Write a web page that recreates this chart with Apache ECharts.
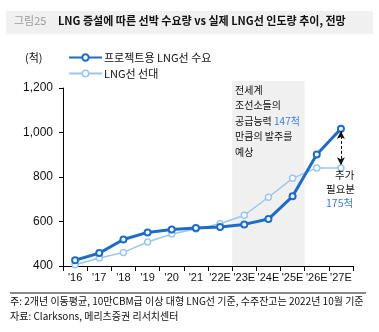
<!DOCTYPE html>
<html><head><meta charset="utf-8">
<script src="https://cdn.jsdelivr.net/npm/echarts@6/dist/echarts.min.js"></script>
<style>html,body{margin:0;padding:0;background:#fff;}#c{width:379px;height:332px;}</style>
</head><body><div id="c"></div>
<script>
const categories = ["'16","'17","'18","'19","'20","'21","'22E","'23E","'24E","'25E","'26E","'27E"];
const demand = [426, 458, 519, 551, 564, 571, 575, 587, 611, 713, 901, 1017];
const fleet = [406, 436, 461, 508, 544, 566, 590, 628, 709, 794, 841, 841];
const yTicks = [400, 800, 1200];
const seriesNames = ['프로젝트용 LNG선 수요', 'LNG선 선대'];
const shadeFrom = "'23E", shadeTo = "'25E";

const FONT = '"Liberation Sans", "Noto Sans CJK KR", sans-serif';
const KFONT = '"Noto Sans CJK KR", "Liberation Sans", sans-serif';
const DARK = '#1d6cc6', LIGHT = '#9cc6f0', BLUE_TXT = '#3f7fd3';

const chart = echarts.init(document.getElementById('c'), null, {renderer: 'canvas'});
const option = {
  animation: false,
  grid: {left: 63, right: 26, top: 88, bottom: 66, containLabel: false},
  legend: {
    orient: 'vertical', left: 63, top: 47, itemWidth: 33, itemHeight: 8, itemGap: 5,
    textStyle: {fontSize: 11, color: '#111', fontFamily: KFONT, padding: [0,0,0,-3]},
    data: seriesNames
  },
  xAxis: {
    type: 'category', data: categories, boundaryGap: true,
    axisLine: {lineStyle: {color: '#000', width: 1}},
    axisTick: {show: true, length: 5, interval: 0, lineStyle: {color: '#000'}},
    axisLabel: {interval: 0, fontSize: 11, color: '#111', fontFamily: FONT, margin: 6}
  },
  yAxis: {
    type: 'value', min: 400, max: 1200, interval: 200,
    axisLine: {show: true, lineStyle: {color: '#000', width: 1}},
    axisTick: {show: true, length: 4, lineStyle: {color: '#000'}},
    splitLine: {show: false},
    axisLabel: {fontSize: 12, color: '#111', fontFamily: FONT, margin: 10,
      formatter: v => v.toLocaleString('en-US')}
  },
  series: [
    {
      name: seriesNames[1], type: 'line', data: fleet, z: 3,
      symbol: 'circle', symbolSize: 6,
      itemStyle: {color: '#fff', borderColor: LIGHT, borderWidth: 1.5},
      lineStyle: {color: LIGHT, width: 1.5},
      emphasis: {disabled: true}
    },
    {
      name: seriesNames[0], type: 'line', data: demand, z: 4,
      symbol: 'circle', symbolSize: 6,
      itemStyle: {color: '#fff', borderColor: DARK, borderWidth: 2},
      lineStyle: {color: DARK, width: 3},
      emphasis: {disabled: true},
      markLine: {
        silent: true, symbol: ['arrow', 'arrow'], symbolSize: [6, 8],
        label: {show: false},
        lineStyle: {color: '#111', type: [3, 2], width: 1},
        data: [[
          {coord: [categories.length - 1, demand[demand.length - 1] - 10]},
          {coord: [categories.length - 1, fleet[fleet.length - 1] + 12]}
        ]]
      }
    }
  ]
};
option.legend.data = [
  {name: seriesNames[0], itemStyle: {color: '#fff', borderColor: DARK, borderWidth: 2}},
  {name: seriesNames[1], itemStyle: {color: '#fff', borderColor: LIGHT, borderWidth: 1.5}}
];
chart.setOption(option);

// shaded region computed through the axes
const i0 = categories.indexOf(shadeFrom), i1 = categories.indexOf(shadeTo);
const a = chart.convertToPixel({gridIndex: 0}, [i0, 1200]);
const b = chart.convertToPixel({gridIndex: 0}, [i0 + 1, 400]);
const c = chart.convertToPixel({gridIndex: 0}, [i1, 400]);
const band = b[0] - a[0];
const x0 = a[0] - band / 2, x1 = c[0] + band / 2;
const yTop = a[1] - 7, yBot = c[1];

chart.setOption({
  graphic: [
    {type: 'rect', z: -1, silent: true, shape: {x: 6, y: 11, width: 367, height: 23}, style: {fill: '#f0f0f0'}},
    {type: 'text', left: 14, top: 15, style: {text: '그림25', font: '11px ' + KFONT, fill: '#9a9a9a'}},
    {type: 'text', left: 58, top: 15, style: {text: 'LNG 증설에 따른 선박 수요량 vs 실제 LNG선 인도량 추이, 전망', font: 'bold 11px ' + KFONT, fill: '#111'}},
    {type: 'text', left: 25, top: 52, style: {text: '(척)', font: '11px ' + KFONT, fill: '#111'}},
    {type: 'rect', z: 0, silent: true, shape: {x: x0, y: yTop, width: x1 - x0, height: yBot - yTop}, style: {fill: '#f0f0f0'}},
    {type: 'text', z: 10, left: 235, top: 85, style: {
      rich: {n: {font: '10px ' + KFONT, fill: '#111', lineHeight: 15.5}, b: {font: '10px ' + KFONT, fill: BLUE_TXT, lineHeight: 15.5}},
      text: '{n|전세계}\n{n|조선소들의}\n{n|공급능력 }{b|147척}\n{n|만큼의 발주를}\n{n|예상}'
    }},
    {type: 'text', z: 10, left: 335, top: 170, style: {text: '추가', font: '10.5px ' + KFONT, fill: '#111'}},
    {type: 'text', z: 10, left: 326, top: 184, style: {text: '필요분', font: '10.5px ' + KFONT, fill: '#111'}},
    {type: 'text', z: 10, left: 326, top: 198, style: {text: '175척', font: '10.5px ' + KFONT, fill: BLUE_TXT}},
    {type: 'line', shape: {x1: 10, y1: 293, x2: 366, y2: 293}, style: {stroke: '#111', lineWidth: 1}},
    {type: 'text', left: 10, top: 296, style: {text: '주: 2개년 이동평균, 10만CBM급 이상 대형 LNG선 기준, 수주잔고는 2022년 10월 기준', font: '10px ' + KFONT, fill: '#111'}},
    {type: 'text', left: 10, top: 311, style: {text: '자료: Clarksons, 메리츠증권 리서치센터', font: '10px ' + KFONT, fill: '#111'}}
  ]
});
</script></body></html>
